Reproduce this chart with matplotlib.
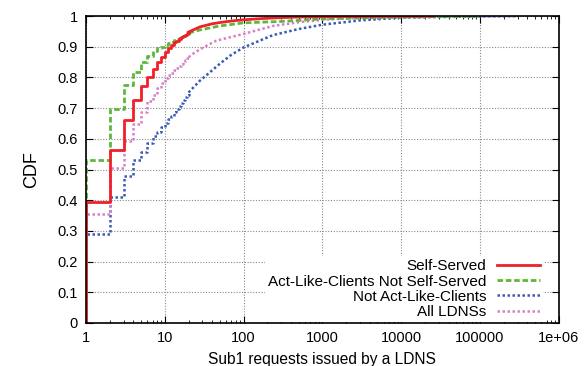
import numpy as np
import matplotlib
matplotlib.use("Agg")
import matplotlib.pyplot as plt

# -----------------------------
# Data
# step part: integer request counts, tail: smooth part
# -----------------------------

self_x = [1, 1, 2, 3, 4, 5, 6, 7, 8, 9, 10, 11, 12, 13, 14, 15, 16, 17, 18, 19, 20]
self_y = [0, 0.395, 0.565, 0.663, 0.727, 0.773, 0.803, 0.828, 0.852, 0.868, 0.882,
          0.896, 0.906, 0.914, 0.92, 0.926, 0.931, 0.936, 0.94, 0.944, 0.948]
self_tail_x = [20, 28, 40, 50, 70, 100, 150, 200, 300, 500, 1000, 3000, 10000, 25000]
self_tail_y = [0.948, 0.965, 0.975, 0.979, 0.984, 0.988, 0.991, 0.993, 0.995, 0.997,
               0.998, 0.999, 0.9995, 1.0]

act_x = [1, 1, 2, 3, 4, 5, 6, 7, 8, 9, 10, 11, 12, 13, 14, 15, 16, 17, 18, 19, 20]
act_y = [0, 0.532, 0.697, 0.776, 0.819, 0.852, 0.871, 0.886, 0.895, 0.9, 0.905,
         0.911, 0.916, 0.921, 0.925, 0.929, 0.932, 0.936, 0.939, 0.942, 0.945]
act_tail_x = [20, 28, 50, 100, 200, 275, 500, 1000, 3000, 10000, 100000]
act_tail_y = [0.945, 0.955, 0.968, 0.978, 0.981, 0.982, 0.986, 0.991, 0.994, 0.997, 1.0]

notact_x = [1, 1, 2, 3, 4, 5, 6, 7, 8, 9, 10, 11, 12, 13, 14, 15, 16, 17, 18, 19, 20]
notact_y = [0, 0.289, 0.41, 0.479, 0.531, 0.558, 0.585, 0.609, 0.623, 0.639, 0.652,
            0.664, 0.676, 0.687, 0.698, 0.708, 0.717, 0.726, 0.735, 0.743, 0.751]
notact_tail_x = [20, 28, 34, 50, 70, 100, 236, 500, 1000, 3000, 10000, 100000, 300000]
notact_tail_y = [0.751, 0.79, 0.808, 0.845, 0.874, 0.898, 0.938, 0.958, 0.972, 0.986,
                 0.995, 0.999, 1.0]

all_x = [1, 1, 2, 3, 4, 5, 6, 7, 8, 9, 10, 11, 12, 13, 14, 15, 16, 17, 18, 19, 20]
all_y = [0, 0.356, 0.506, 0.592, 0.649, 0.689, 0.722, 0.744, 0.765, 0.782, 0.797,
         0.807, 0.816, 0.824, 0.831, 0.838, 0.845, 0.851, 0.857, 0.862, 0.866]
all_tail_x = [20, 23, 28, 45, 100, 236, 500, 1000, 3000, 10000, 100000, 300000]
all_tail_y = [0.866, 0.878, 0.892, 0.92, 0.942, 0.968, 0.98, 0.988, 0.994, 0.997, 0.999, 1.0]

x_ticks = [1, 10, 100, 1000, 10000, 100000, 1000000]
x_tick_labels = ["1", "10", "100", "1000", "10000", "100000", "1e+06"]
y_ticks = [0, 0.1, 0.2, 0.3, 0.4, 0.5, 0.6, 0.7, 0.8, 0.9, 1]
y_tick_labels = ["0", "0.1", "0.2", "0.3", "0.4", "0.5", "0.6", "0.7", "0.8", "0.9", "1"]

# -----------------------------
# Plot
# -----------------------------

plt.rcParams["font.family"] = ["Liberation Sans", "DejaVu Sans"]

fig = plt.figure(figsize=(5.87, 3.66), dpi=100)
ax = fig.add_axes([0.1465, 0.1175, 0.8055, 0.8385])

series = [
    (self_x, self_y, self_tail_x, self_tail_y, "#f0202a", 2.0, "-", "Self-Served", 6),
    (act_x, act_y, act_tail_x, act_tail_y, "#5cb83a", 2.0, (0, (2, 1)),
     "Act-Like-Clients Not Self-Served", 5),
    (notact_x, notact_y, notact_tail_x, notact_tail_y, "#3a5ab5", 1.8, (0, (1, 1)),
     "Not Act-Like-Clients", 4),
    (all_x, all_y, all_tail_x, all_tail_y, "#d880c8", 1.8, (0, (1, 1)), "All LDNSs", 4),
]

for sx, sy, tx, ty, col, lw, ls, lab, z in series:
    ax.plot(sx, sy, drawstyle="steps-post", color=col, linewidth=lw,
            linestyle=ls, label=lab, zorder=z)
    ax.plot(tx, ty, color=col, linewidth=lw, linestyle=ls, zorder=z)

ax.set_xscale("log")
ax.set_xlim(1, 1e6)
ax.set_ylim(0, 1)

ax.set_xticks(x_ticks)
ax.set_xticklabels(x_tick_labels)
ax.set_yticks(y_ticks)
ax.set_yticklabels(y_tick_labels)

ax.tick_params(which="both", direction="in", top=True, right=True, labelsize=10.5)
ax.tick_params(which="major", length=5, width=0.8, pad=6)
ax.tick_params(which="minor", length=2.5, width=0.6)

ax.grid(True, which="major", color="#888888", linestyle=(0, (1, 1.5)), linewidth=0.8)
ax.set_axisbelow(True)

for s in ax.spines.values():
    s.set_linewidth(1.2)
    s.set_zorder(10)

ax.set_xlabel("Sub1 requests issued by a LDNS", fontsize=11.2, labelpad=5)
ax.set_ylabel("CDF", fontsize=13, labelpad=12)

leg = ax.legend(loc="lower right", bbox_to_anchor=(0.966, 0.003), markerfirst=False,
                fontsize=11, frameon=True, fancybox=False, edgecolor="none",
                facecolor="white", framealpha=1.0, handlelength=2.8,
                handletextpad=0.7, labelspacing=0.08, borderpad=0.2,
                borderaxespad=0.0)
for t in leg.get_texts():
    t.set_ha("right")

fig.savefig("out.png", dpi=100)
